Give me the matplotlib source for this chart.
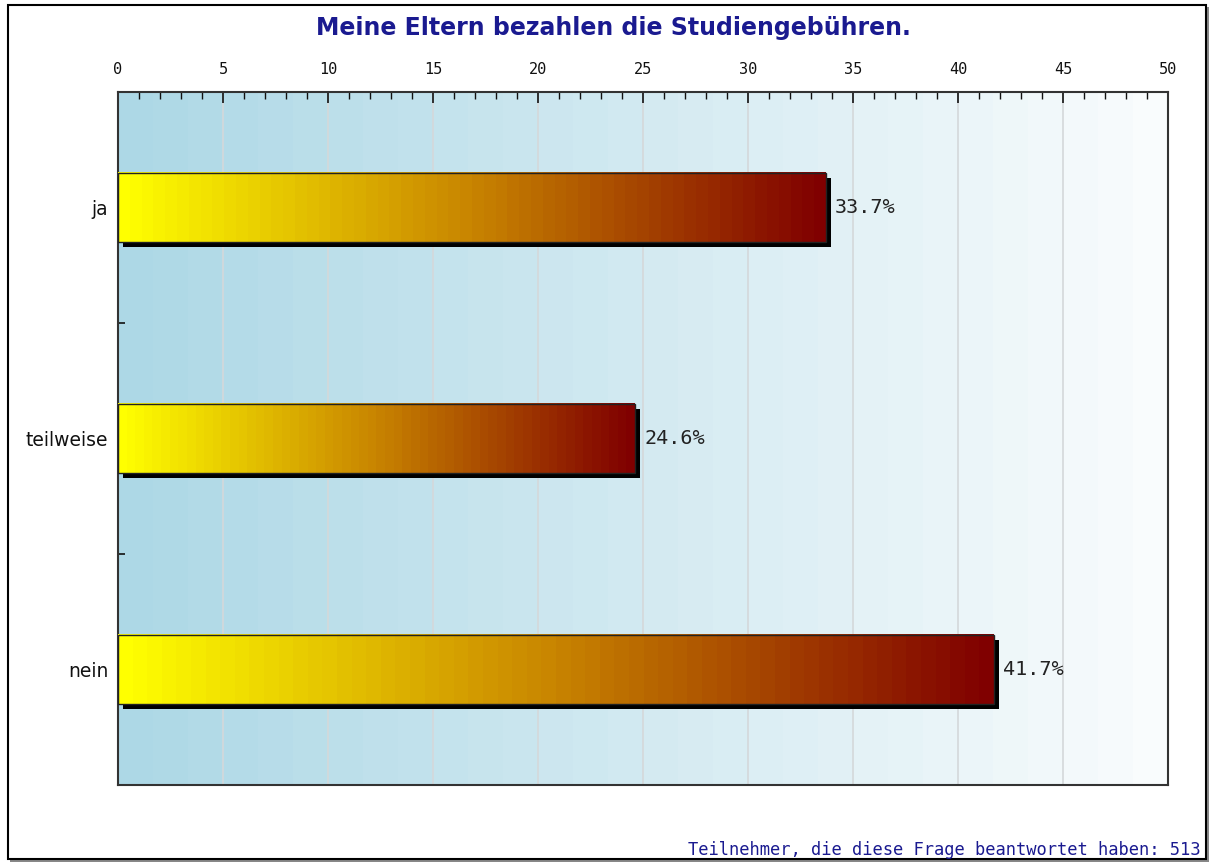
import numpy as np
import matplotlib
matplotlib.use("Agg")
import matplotlib.pyplot as plt
from matplotlib.colors import LinearSegmentedColormap
from matplotlib.patches import Rectangle
import matplotlib.transforms as mtransforms

title = "Meine Eltern bezahlen die Studiengebühren."
categories = ["ja", "teilweise", "nein"]
values = [33.7, 24.6, 41.7]
value_labels = ["33.7%", "24.6%", "41.7%"]
xticks = [0, 5, 10, 15, 20, 25, 30, 35, 40, 45, 50]
footnote = "Teilnehmer, die diese Frage beantwortet haben: 513"

W, H = 1213, 863
fig = plt.figure(figsize=(W / 100, H / 100), dpi=100)
fig.patch.set_facecolor("white")

# outer frame with shadow
fig.patches.append(Rectangle((10 / W, 1 - 862 / H), 1199 / W, 855 / H, transform=fig.transFigure,
                             facecolor="#888888", edgecolor="none", zorder=0))
fig.patches.append(Rectangle((8 / W, 1 - 859 / H), 1198 / W, 854 / H, transform=fig.transFigure,
                             facecolor="white", edgecolor="black", lw=1.5, zorder=1))

ax = fig.add_axes([118 / W, 1 - 785 / H, 1050 / W, 693 / H])
ax.set_zorder(2)
ax.set_xlim(0, 50)
ax.set_ylim(3, 0)

# background stepped gradient
bg = LinearSegmentedColormap.from_list("bg", ["#add8e6", "#f9fcfd"])
ax.imshow(np.linspace(0, 1, 30).reshape(1, -1), cmap=bg, aspect="auto",
          extent=(0, 50, 3, 0), interpolation="nearest", zorder=0)

for x in xticks[1:-1]:
    ax.axvline(x, color="#d4d8da", lw=1.2, zorder=1)

barcm = LinearSegmentedColormap.from_list("bar", ["#ffff00", "#c88400", "#800000"])
h = 0.3
shadow = mtransforms.offset_copy(ax.transData, fig=fig, x=5, y=-5, units="dots")
for i, (v, lab) in enumerate(zip(values, value_labels)):
    yc = i + 0.5
    ax.add_patch(Rectangle((0, yc - h / 2), v, h, transform=shadow,
                           facecolor="black", edgecolor="none", zorder=2))
    ax.imshow(np.linspace(0, 1, 60).reshape(1, -1), cmap=barcm, aspect="auto",
              extent=(0, v, yc + h / 2, yc - h / 2), interpolation="nearest", zorder=3)
    ax.add_patch(Rectangle((0, yc - h / 2), v, h, facecolor="none",
                           edgecolor="#222222", lw=1, zorder=4))
    ax.text(v + 0.45, yc, lab, va="center", ha="left", fontsize=14.5,
            family="DejaVu Sans Mono", color="#222222", zorder=5)

ax.set_xlim(0, 50)
ax.set_ylim(3, 0)

ax.xaxis.tick_top()
ax.set_xticks(xticks)
ax.set_xticks(np.arange(0, 51, 1), minor=True)
ax.tick_params(axis="x", which="major", direction="in", length=8, width=1.2,
               labelsize=11, pad=11, colors="#111111")
ax.tick_params(axis="x", which="minor", direction="in", length=5, width=1, colors="#111111")
ax.set_yticks([1, 2])
ax.set_yticks([0.5, 1.5, 2.5], minor=True)
ax.set_yticklabels([])
ax.set_yticklabels(categories, minor=True)
ax.tick_params(axis="y", which="major", direction="in", length=5, width=1.2, colors="#111111")
ax.tick_params(axis="y", which="minor", length=0, labelsize=13.5, pad=7, colors="#111111")
for lab in ax.get_xticklabels():
    lab.set_family("DejaVu Sans Mono")
for s in ax.spines.values():
    s.set_color("#333333")
    s.set_linewidth(1.5)

fig.text(613 / W, 1 - 28 / H, title, ha="center", va="center", fontsize=17,
         color="#1a1a90", fontweight="bold", family="DejaVu Sans", zorder=5)
fig.text(1200 / W, 1 - 850 / H, footnote, ha="right", va="center", fontsize=12.3,
         color="#1a1a90", family="DejaVu Sans Mono", zorder=5)

fig.savefig("out.png", dpi=100, facecolor="white")
